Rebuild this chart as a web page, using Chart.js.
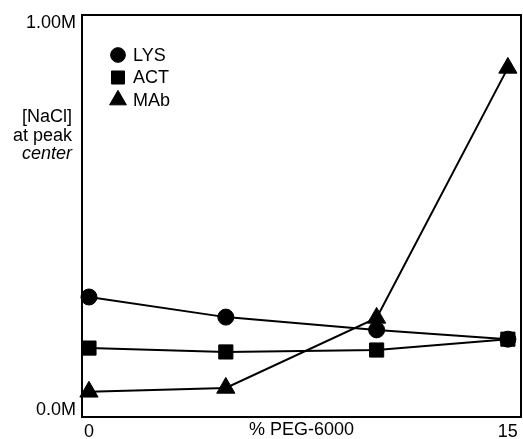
<!DOCTYPE html>
<html>
<head>
<meta charset="utf-8">
<script src="https://cdn.jsdelivr.net/npm/chart.js@4"></script>
<style>
  html, body { margin: 0; padding: 0; background: #fff; overflow: hidden; }
  #wrap { width: 523px; height: 439px; position: relative; }
  canvas { display: block; }
</style>
</head>
<body>
<div id="wrap"><canvas id="grafico"></canvas></div>
<script>
// --- DATA ---
const pegPercent = [0, 4.9, 10.3, 15];
const lysValues = [0.292, 0.240, 0.207, 0.183];
const actValues = [0.160, 0.150, 0.155, 0.183];
const mabValues = [0.047, 0.057, 0.238, 0.884];
const seriesNames = ["LYS", "ACT", "MAb"];
const xTickValues = [0, 15];
const yTickValues = [0, 1];
const yTickLabels = ["0.0M", "1.00M"];
const yTitleLines = ["[NaCl]", "at peak", "center"];

const FONT = "'Liberation Sans', Arial, sans-serif";

function puntos(valores) {
  return valores.map((v, i) => ({ x: pegPercent[i], y: v }));
}

// caja del grafico + leyenda + titulo del eje Y
const decoPlugin = {
  id: "deco",
  beforeDatasetsDraw(chart) {
    const { ctx, chartArea: a } = chart;
    ctx.save();
    ctx.strokeStyle = "#000";
    ctx.lineWidth = 2;
    ctx.strokeRect(a.left, a.top, a.right - a.left, a.bottom - a.top);
    ctx.restore();
  },
  afterDraw(chart) {
    const ctx = chart.ctx;
    ctx.save();
    ctx.fillStyle = "#000";
    ctx.textBaseline = "middle";

    // titulo eje Y, horizontal y alineado a la derecha
    ctx.textAlign = "right";
    const ys = [117, 136, 154];
    yTitleLines.forEach((t, i) => {
      ctx.font = (i === 2 ? "italic " : "") + "18px " + FONT;
      ctx.fillText(t, 72, ys[i]);
    });

    // leyenda
    ctx.textAlign = "left";
    ctx.font = "18px " + FONT;
    chart.data.datasets.forEach((ds, i) => {
      const y = 55 + i * 22.5;
      const opts = { pointStyle: ds.pointStyle, radius: ds.pointRadius * 0.92, rotation: 0, borderWidth: 1 };
      ctx.fillStyle = "#000";
      ctx.strokeStyle = "#000";
      Chart.helpers.drawPoint(ctx, opts, 118, y);
      ctx.fillStyle = "#000";
      ctx.fillText(ds.label, 133, y + 1);
    });
    ctx.restore();
  }
};

function serie(label, valores, estilo, radio) {
  return {
    label: label,
    data: puntos(valores),
    borderColor: "#000",
    backgroundColor: "#000",
    borderWidth: 2,
    pointStyle: estilo,
    pointRadius: radio,
    pointBorderWidth: 1,
    pointBackgroundColor: "#000",
    pointBorderColor: "#000",
    tension: 0,
    clip: false
  };
}

new Chart(document.getElementById("grafico"), {
  type: "line",
  data: {
    datasets: [
      serie(seriesNames[0], lysValues, "circle", 8),
      serie(seriesNames[1], actValues, "rect", 10),
      serie(seriesNames[2], mabValues, "triangle", 10.5)
    ]
  },
  options: {
    responsive: true,
    maintainAspectRatio: false,
    animation: false,
    layout: { autoPadding: false, padding: { left: 0, right: 2, top: 15, bottom: 0 } },
    plugins: {
      legend: { display: false },
      tooltip: { enabled: false }
    },
    scales: {
      x: {
        type: "linear",
        min: -0.25,
        max: 15.47,
        afterBuildTicks: (s) => { s.ticks = xTickValues.map(v => ({ value: v })); },
        afterFit: (s) => { s.height = 22; s.paddingLeft = 0; s.paddingRight = 0; },
        grid: { display: false, drawTicks: false },
        border: { display: false },
        ticks: {
          color: "#000",
          padding: 4,
          maxRotation: 0,
          font: { family: FONT, size: 18 },
          callback: (v) => String(v)
        },
        title: {
          display: true,
          text: "% PEG-6000",
          color: "#000",
          font: { family: FONT, size: 18 },
          padding: { top: 0, bottom: -2 }
        }
      },
      y: {
        min: -0.0181,
        max: 1.0207,
        afterBuildTicks: (s) => { s.ticks = yTickValues.map(v => ({ value: v })); },
        afterFit: (s) => { s.width = 82; s.paddingTop = 0; s.paddingBottom = 0; },
        grid: { display: false, drawTicks: false },
        border: { display: false },
        ticks: {
          color: "#000",
          padding: 6,
          font: { family: FONT, size: 18 },
          callback: (v) => yTickLabels[yTickValues.indexOf(v)]
        }
      }
    }
  },
  plugins: [decoPlugin]
});
</script>
</body>
</html>
